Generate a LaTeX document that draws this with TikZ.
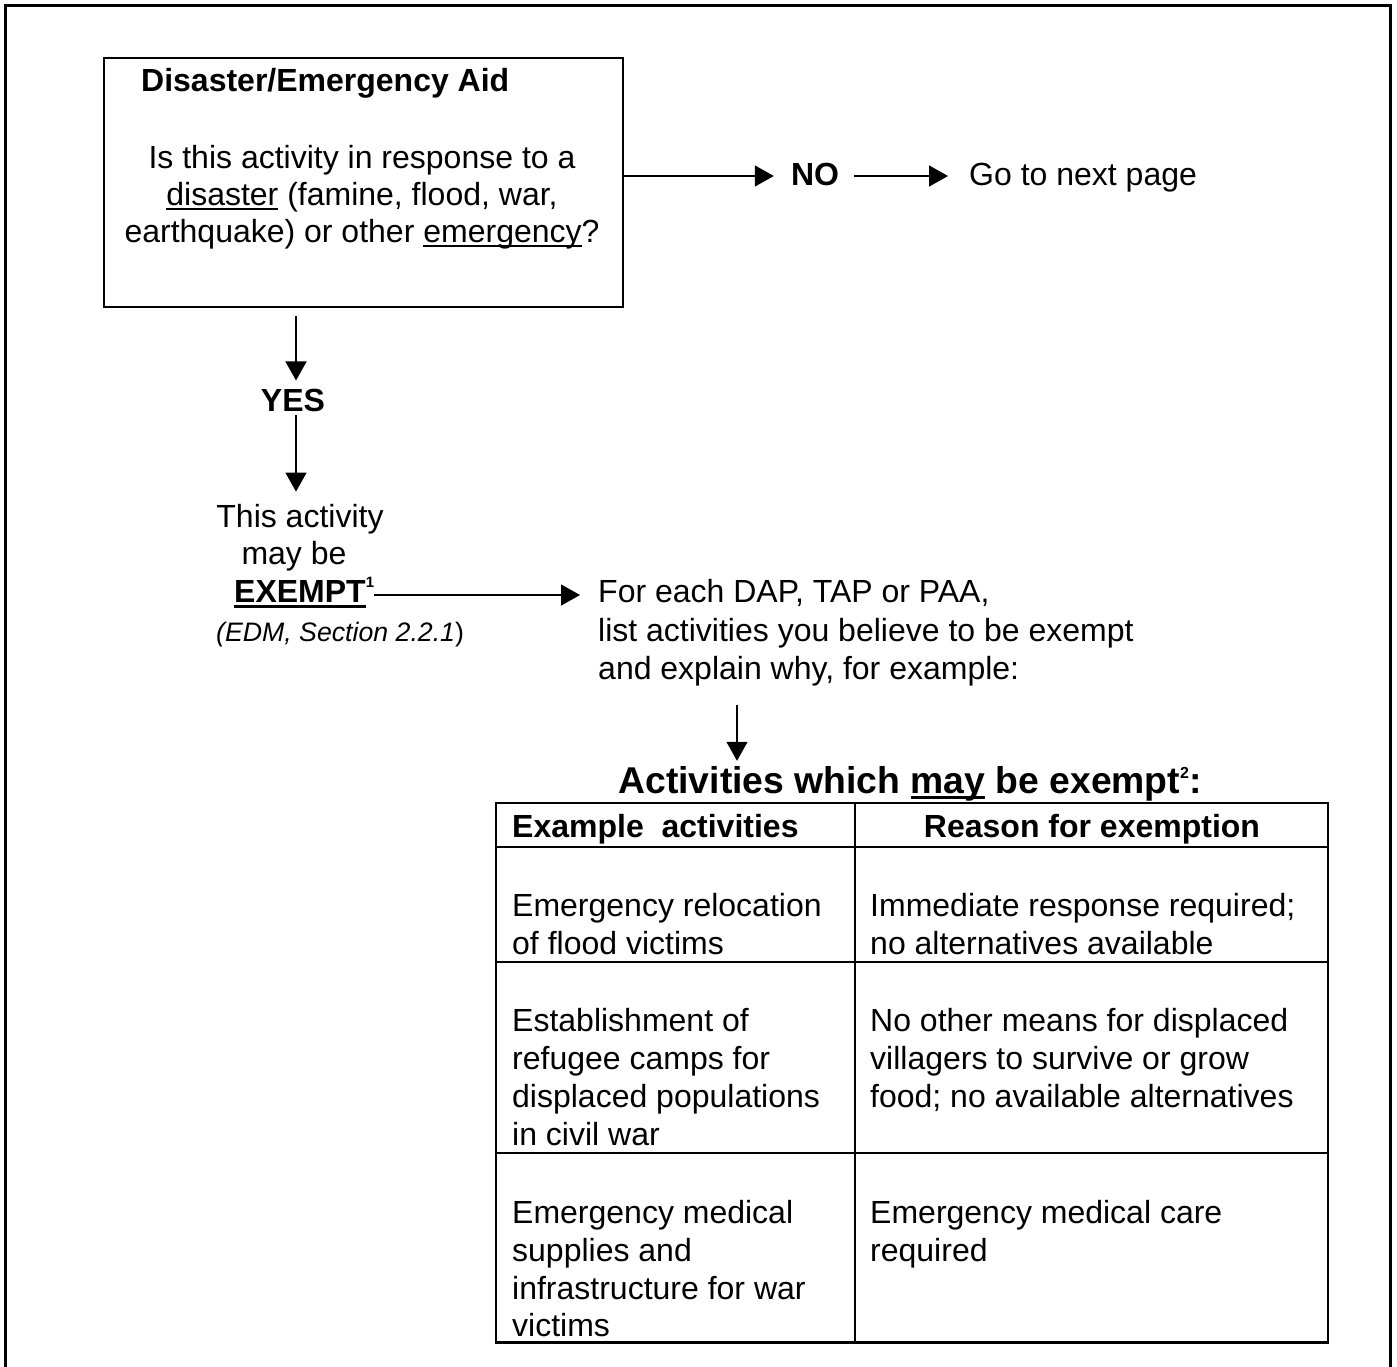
\documentclass[tikz,border=0pt]{standalone}
\usepackage{fontspec}
\setmainfont{Liberation Sans}
\usetikzlibrary{arrows.meta,calc}
\newcommand{\ulx}[3]{\setbox0\hbox{#3}\rlap{\vrule height -#1 depth #2 width \wd0}\box0\relax}
\tikzset{
  txt/.style={inner sep=0pt, font=\fontsize{32}{37}\selectfont},
  btxt/.style={inner sep=0pt, font=\fontsize{32}{37}\selectfont\bfseries},
  arr/.style={line width=1.4pt, -{Triangle[length=19pt,width=21pt]}},
  qbox/.style={draw, line width=2pt, inner sep=0pt},
  thinrule/.style={line width=1.5pt},
  thickrule/.style={line width=2.5pt, line join=miter},
}
\begin{document}
\begin{tikzpicture}[x=1pt,y=-1pt]
\useasboundingbox (0,0) rectangle (1397,1366);
\fill[white] (0,0) rectangle (1397,1366);
% outer frame (open at the bottom)
\draw[line width=3.2pt, line join=miter] (5.5,1370) -- (5.5,5.5) -- (1390.5,5.5) -- (1390.5,1370);

% question box
\node[qbox, minimum width=519pt, minimum height=249pt] (q) at (363.5,182.5) {};
\node[btxt, anchor=base west] (qt) at (141,91) {Disaster/Emergency Aid};
\node[txt, anchor=base] (q1) at (362,168) {Is this activity in response to a};
\node[txt, anchor=base] (q2) at (362,205) {\ulx{3pt}{5pt}{disaster} (famine, flood, war,};
\node[txt, anchor=base] (q3) at (362,242) {earthquake) or other \ulx{3pt}{5pt}{emergency}?};

% NO branch
\node[btxt, anchor=base] (no) at (815,185) {NO};
\node[txt, anchor=base west] (go) at (969,185) {Go to next page};
\draw[arr] ($(q.east |- no.base)+(0,-9)$) -- ($(no.base west)+(-17,-9)$);
\draw[arr] ($(no.base east)+(15,-9)$) -- ($(go.base west)+(-21,-9)$);

% YES branch
\node[btxt, anchor=base] (yes) at (293,411) {YES};
\draw[arr] ($(yes.north |- q.south)+(3,8)$) -- ($(yes.north)+(3,-8)$);
\node[txt, anchor=base] (l1) at (300,527) {This activity};
\node[txt, anchor=base] (l2) at (294,564) {may be};
\node[btxt, anchor=base west] (ex) at (234,602) {\ulx{2.5pt}{5.5pt}{EXEMPT}\raisebox{15pt}{\fontsize{15}{15}\selectfont 1}};
\node[inner sep=0pt, font=\fontsize{26.7}{31}\selectfont, anchor=base west] (edm) at (216,641) {\textit{(EDM, Section 2.2.1})};
\draw[arr] ($(yes.south)+(3,3)$) -- ($(yes.south |- l1.north)+(3,-12)$);

% right text
\node[txt, anchor=base west] (f1) at (598,602) {For each DAP, TAP or PAA,};
\node[txt, anchor=base west] (f2) at (598,641) {list activities you believe to be exempt};
\node[txt, anchor=base west] (f3) at (598,679) {and explain why, for example:};
\draw[arr] ($(ex.east |- f1.base west)+(0,-7)$) -- ($(f1.base west)+(-18,-7)$);

% table title
\node[inner sep=0pt, font=\fontsize{37.3}{44}\selectfont\bfseries, anchor=base] (tt) at (910,793)
  {Activities which \ulx{2.5pt}{5.5pt}{may} be exempt\raisebox{15pt}{\fontsize{16}{16}\selectfont 2}:};
\draw[arr] ($(f3.south west)+(139,19)$) -- ($(f3.south west |- tt.north)+(139,-5)$);

% table grid
\draw[thinrule] (496,847) -- (1328,847) (496,962) -- (1328,962) (496,1153) -- (1328,1153) (855,803) -- (855,1342);
\draw[thickrule] (496,803) rectangle (1328,1342);
\draw[line width=3pt] (494.75,1342) -- (1329.25,1342);

% header
\node[btxt, anchor=base west] (h1) at (512,837) {Example~~activities};
\node[btxt, anchor=base] (h2) at (1092,837) {Reason for exemption};

% row 1
\node[txt, anchor=base west] (r1a) at (512,916) {Emergency relocation};
\node[txt, anchor=base west] (r1b) at (512,954) {of flood victims};
\node[txt, anchor=base west] (r1c) at (870,916) {Immediate response required;};
\node[txt, anchor=base west] (r1d) at (870,954) {no alternatives available};

% row 2
\node[txt, anchor=base west] (r2a) at (512,1031) {Establishment of};
\node[txt, anchor=base west] (r2b) at (512,1069) {refugee camps for};
\node[txt, anchor=base west] (r2c) at (512,1107) {displaced populations};
\node[txt, anchor=base west] (r2d) at (512,1145) {in civil war};
\node[txt, anchor=base west] (r2e) at (870,1031) {No other means for displaced};
\node[txt, anchor=base west] (r2f) at (870,1069) {villagers to survive or grow};
\node[txt, anchor=base west] (r2g) at (870,1107) {food; no available alternatives};

% row 3
\node[txt, anchor=base west] (r3a) at (512,1223) {Emergency medical};
\node[txt, anchor=base west] (r3b) at (512,1261) {supplies and};
\node[txt, anchor=base west] (r3c) at (512,1299) {infrastructure for war};
\node[txt, anchor=base west] (r3d) at (512,1336) {victims};
\node[txt, anchor=base west] (r3e) at (870,1223) {Emergency medical care};
\node[txt, anchor=base west] (r3f) at (870,1261) {required};
\end{tikzpicture}
\end{document}
